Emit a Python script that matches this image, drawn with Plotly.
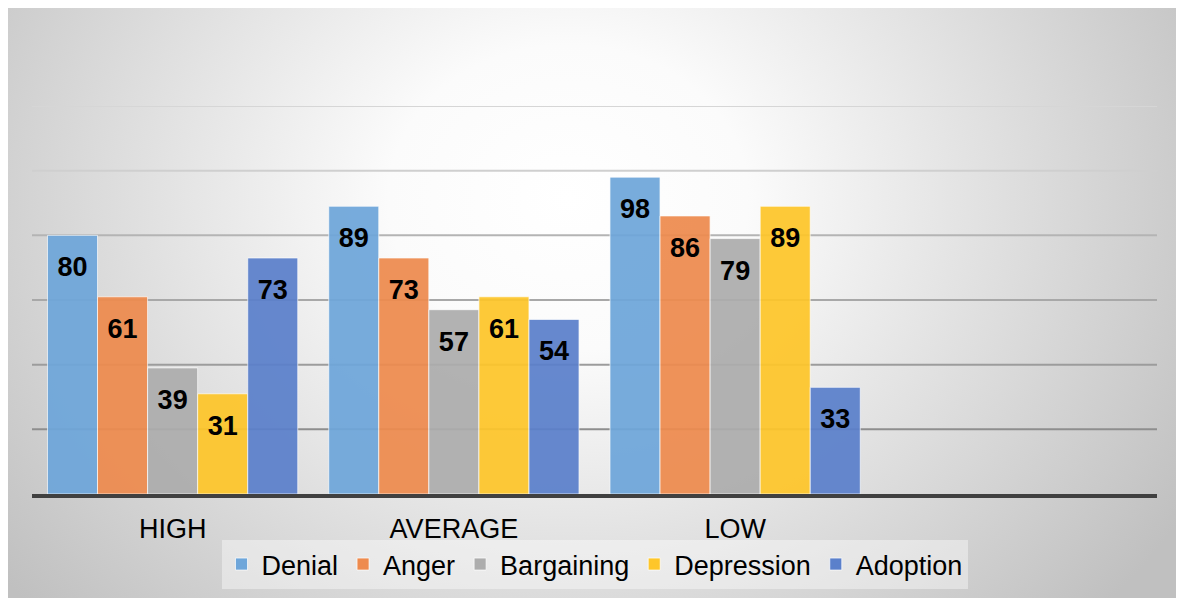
import base64
import plotly.graph_objects as go

categories = ["HIGH", "AVERAGE", "LOW", " "]
series_names = ["Denial", "Anger", "Bargaining", "Depression", "Adoption"]
denial = [80, 89, 98]
anger = [61, 73, 86]
bargaining = [39, 57, 79]
depression = [31, 61, 89]
adoption = [73, 54, 33]
grid_values = [20, 40, 60, 80, 100, 120]

series_values = [denial, anger, bargaining, depression, adoption]
colors = ["#6ea6da", "#ee8b4e", "#adadad", "#fec62a", "#5b80cb"]
grid_colors = ["#8e8e8e", "#9c9c9c", "#a8a8a8", "#b4b4b4", "#cfcfcf", "#d6d6d6"]

FONT = "Liberation Sans, Arial, sans-serif"

fig = go.Figure()
for name, vals, col in zip(series_names, series_values, colors):
    fig.add_trace(go.Bar(
        name=name,
        x=categories[:len(vals)],
        y=vals,
        marker=dict(color=col, opacity=0.93,
                    line=dict(color="rgba(255,255,255,0.7)", width=1)),
        text=[str(v) for v in vals],
        texttemplate="<span style='font-size:3px'>\u00a0</span><br>%{text}",
        textposition="inside",
        insidetextanchor="end",
        textangle=0,
        constraintext="none",
        textfont=dict(family=FONT, size=27, color="black", weight="bold"),
        cliponaxis=False,
        hoverinfo="skip",
    ))

W, H = 1184, 598
L, R, T, B = 24, 35, 98, 112
pw, ph = W - L - R, H - T - B

# radial gradient background covering the whole figure
svg = (
    "<svg xmlns='http://www.w3.org/2000/svg' width='1184' height='598' viewBox='0 0 1184 598' preserveAspectRatio='none'>"
    "<defs><radialGradient id='g' gradientUnits='userSpaceOnUse' cx='560' cy='190' r='720' "
    "gradientTransform='translate(560 190) scale(1 0.85) translate(-560 -190)'>"
    "<stop offset='0' stop-color='#ffffff'/>"
    "<stop offset='0.25' stop-color='#fbfbfb'/>"
    "<stop offset='1' stop-color='#c0c0c0'/>"
    "</radialGradient></defs>"
    "<rect x='0' y='0' width='1184' height='598' fill='url(#g)'/></svg>"
)
src = "data:image/svg+xml;base64," + base64.b64encode(svg.encode()).decode()

fig.add_layout_image(dict(
    source=src, xref="paper", yref="paper",
    x=-L / pw, y=(H - B) / ph,
    sizex=W / pw, sizey=H / ph,
    xanchor="left", yanchor="top", sizing="stretch", layer="below",
))

for gv, gc in zip(grid_values, grid_colors):
    fig.add_shape(type="line", xref="paper", x0=0, x1=1, yref="y", y0=gv, y1=gv,
                  line=dict(color=gc, width=2), layer="below")

fig.update_layout(
    width=W, height=H,
    margin=dict(l=L, r=R, t=T, b=B),
    paper_bgcolor="#c6c6c6",
    plot_bgcolor="rgba(0,0,0,0)",
    barmode="group",
    bargap=0.11,
    bargroupgap=0,
    font=dict(family=FONT, color="black"),
    showlegend=True,
    legend=dict(
        orientation="h", x=0.5, xanchor="center", y=(H - B - 532) / ph, yanchor="top",
        bgcolor="rgba(255,255,255,0.4)",
        font=dict(family=FONT, size=27, color="black"),
        itemclick=False, itemdoubleclick=False,
    ),
    xaxis=dict(
        type="category", categoryorder="array", categoryarray=categories,
        range=[-0.5, len(categories) - 0.5],
        showline=True, linecolor="#404040", linewidth=4,
        ticks="", showgrid=False, zeroline=False,
        ticklabelstandoff=8,
        tickfont=dict(family=FONT, size=27, color="black"),
        fixedrange=True,
    ),
    yaxis=dict(
        range=[0, 120], showgrid=False, zeroline=False,
        showticklabels=False, ticks="", fixedrange=True,
    ),
)

fig.write_html("out.html")
